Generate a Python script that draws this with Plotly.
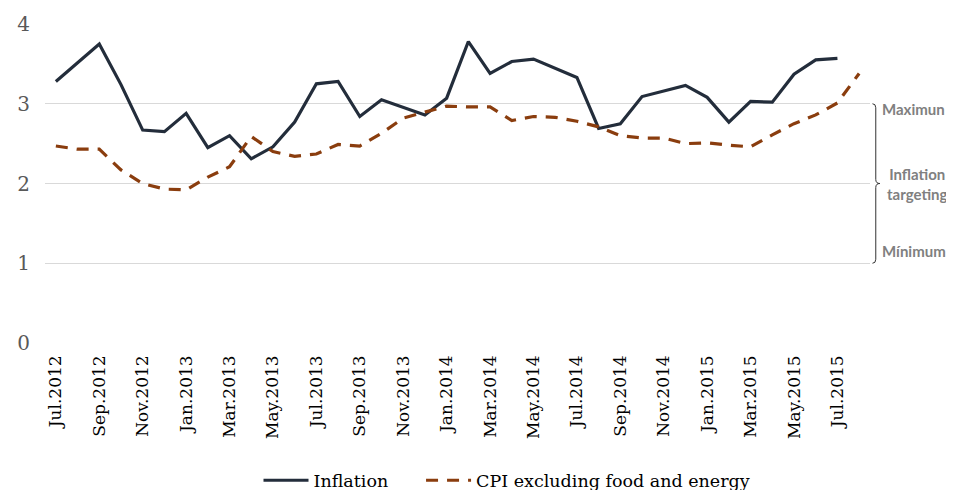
import plotly.graph_objects as go

months = ["Jul.2012", "Aug.2012", "Sep.2012", "Oct.2012", "Nov.2012", "Dec.2012",
          "Jan.2013", "Feb.2013", "Mar.2013", "Apr.2013", "May.2013", "Jun.2013",
          "Jul.2013", "Aug.2013", "Sep.2013", "Oct.2013", "Nov.2013", "Dec.2013",
          "Jan.2014", "Feb.2014", "Mar.2014", "Apr.2014", "May.2014", "Jun.2014",
          "Jul.2014", "Aug.2014", "Sep.2014", "Oct.2014", "Nov.2014", "Dec.2014",
          "Jan.2015", "Feb.2015", "Mar.2015", "Apr.2015", "May.2015", "Jun.2015",
          "Jul.2015", "Aug.2015"]

inflation = [3.28, 3.51, 3.75, 3.24, 2.67, 2.65, 2.88, 2.45, 2.60, 2.31, 2.46, 2.77,
             3.25, 3.28, 2.84, 3.05, 2.96, 2.86, 3.07, 3.78, 3.38, 3.53, 3.56, 3.44,
             3.33, 2.69, 2.75, 3.09, 3.16, 3.23, 3.08, 2.77, 3.03, 3.02, 3.37, 3.55,
             3.57]

cpi_core = [2.47, 2.43, 2.43, 2.17, 2.00, 1.93, 1.92, 2.08, 2.21, 2.59, 2.40, 2.34,
            2.37, 2.49, 2.47, 2.63, 2.82, 2.90, 2.97, 2.96, 2.96, 2.79, 2.84, 2.83,
            2.78, 2.71, 2.60, 2.57, 2.57, 2.50, 2.51, 2.48, 2.46, 2.61, 2.75, 2.86,
            3.01, 3.38]

tick_labels = months[::2]
y_ticks = [0, 1, 2, 3, 4]

fig = go.Figure()
fig.add_trace(go.Scatter(
    x=months[:len(inflation)], y=inflation, mode="lines",
    name="Inflation" + "\u00a0" * 5,
    line=dict(color="#232d3b", width=3.2),
))
fig.add_trace(go.Scatter(
    x=months, y=cpi_core, mode="lines", name="CPI excluding food and energy",
    line=dict(color="#8a3d0e", width=3.2, dash="12px,9px"),
))

# brace from Minimum (1) to Maximum (3)
bx0, bx1, bx2 = 1.003, 1.007, 1.012
fig.add_shape(type="path", xref="paper", yref="y",
              path=(f"M {bx0},3 Q {bx1},3 {bx1},2.95 L {bx1},2.05 Q {bx1},2 {bx2},2 "
                    f"Q {bx1},2 {bx1},1.95 L {bx1},1.05 Q {bx1},1 {bx0},1"),
              line=dict(color="#333333", width=1))

ann_font = dict(family="Lato, Open Sans, sans-serif", size=15, color="#808080")
fig.add_annotation(xref="paper", yref="y", x=1.0125, y=2.93, text="<b>Maximun</b>",
                   showarrow=False, xanchor="left", yanchor="middle", font=ann_font)
fig.add_annotation(xref="paper", yref="y", x=1.057, y=2.0, text="<b>Inflation<br>targeting</b>",
                   showarrow=False, xanchor="center", yanchor="middle", font=ann_font)
fig.add_annotation(xref="paper", yref="y", x=1.0125, y=1.15, text="<b>Mínimum</b>",
                   showarrow=False, xanchor="left", yanchor="middle", font=ann_font)

fig.update_layout(
    width=946, height=482,
    margin=dict(l=37, r=84, t=16, b=147),
    plot_bgcolor="white", paper_bgcolor="white",
    showlegend=True,
    legend=dict(orientation="h", x=0.56, xanchor="center",
                yref="container", y=0.02, yanchor="middle",
                font=dict(family="DejaVu Serif", size=17.5, color="#000000"),
                itemwidth=45, traceorder="normal", bgcolor="rgba(0,0,0,0)"),
    xaxis=dict(type="category", categoryorder="array", categoryarray=months,
               range=[-0.5, len(months) - 0.5],
               tickmode="array", tickvals=tick_labels, ticktext=tick_labels,
               tickangle=-90, showgrid=False, showline=False, zeroline=False,
               tickfont=dict(family="DejaVu Serif", size=17, color="#000000"),
               ticklabelstandoff=8, automargin=False),
    yaxis=dict(range=[0, 4], tickmode="array", tickvals=y_ticks,
               showgrid=True, gridcolor="#d9d9d9", gridwidth=1.3,
               zeroline=False, showline=False,
               tickfont=dict(family="DejaVu Serif", size=20, color="#595959"),
               ticklabelstandoff=14, automargin=False),
)

fig.write_html("out.html")
